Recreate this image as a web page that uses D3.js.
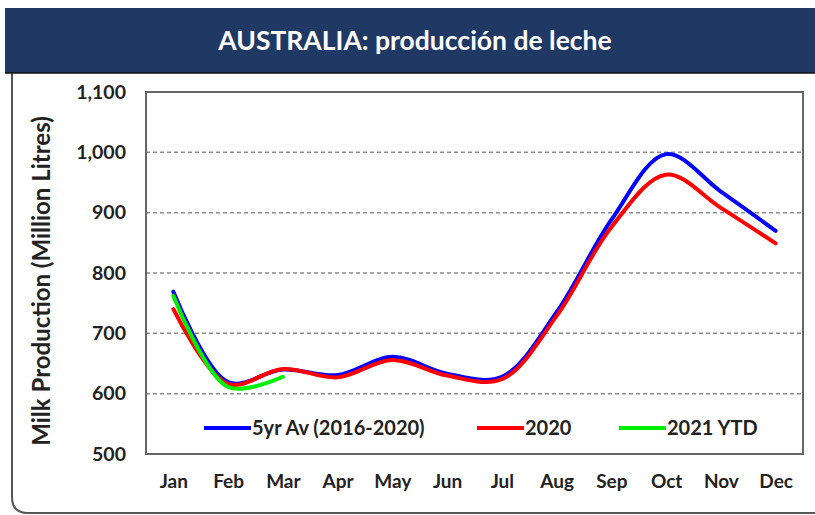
<!DOCTYPE html>
<html>
<head>
<meta charset="utf-8">
<script src="https://cdn.jsdelivr.net/npm/d3@7"></script>
<style>
  body { margin: 0; background: #fff; }
  svg { display: block; font-family: Lato, "Open Sans", sans-serif; }
</style>
</head>
<body>
<div id="chart"></div>
<script>
// data
const months = ["Jan", "Feb", "Mar", "Apr", "May", "Jun", "Jul", "Aug", "Sep", "Oct", "Nov", "Dec"];
const avg5yr = [769, 619, 640, 631, 661, 633, 628, 735, 888, 997, 935, 870];
const y2020 = [740, 616, 641, 627, 656, 630, 624, 729, 876, 963, 908, 849];
const y2021 = [762, 611, 628];
const yTicks = [500, 600, 700, 800, 900, 1000, 1100];

const series = [
  { name: "5yr Av (2016-2020)", values: avg5yr, color: "#0000ff" },
  { name: "2020", values: y2020, color: "#ff0000" },
  { name: "2021 YTD", values: y2021, color: "#00ee00" },
];

function drawChart() {
  const W = 815, H = 515;
  const margin = { top: 92, right: 12, bottom: 61, left: 146 },
    width = W - margin.left - margin.right,
    height = H - margin.top - margin.bottom;

  const root = d3.select("#chart").append("svg").attr("width", W).attr("height", H);

  // cadre gris avec coin arrondi
  root.append("path")
    .attr("d", "M12,73 L12,497 Q12,513 28,513 L815,513")
    .attr("fill", "none")
    .attr("stroke", "#555")
    .attr("stroke-width", 2);

  // bandeau titre
  root.append("rect")
    .attr("x", 5).attr("y", 8).attr("width", 815).attr("height", 65)
    .attr("fill", "#1f3864");
  root.append("line")
    .attr("x1", 5).attr("x2", 815).attr("y1", 73).attr("y2", 73)
    .attr("stroke", "#111").attr("stroke-width", 1.5);
  root.append("text")
    .attr("x", 415).attr("y", 50)
    .attr("text-anchor", "middle")
    .style("fill", "#fff")
    .style("font-size", "26.5px")
    .style("font-weight", "bold")
    .text("AUSTRALIA: producción de leche");

  const svg = root.append("g").attr("transform", `translate(${margin.left},${margin.top})`);

  // échelles
  const x = d3.scalePoint().domain(months).range([0, width]).padding(0.5);
  const y = d3.scaleLinear().domain([500, 1100]).range([height, 0]);

  // grille
  svg.append("g")
    .selectAll("line")
    .data(yTicks.filter((t) => t > 500 && t < 1100))
    .join("line")
    .attr("x1", 0).attr("x2", width)
    .attr("y1", (d) => y(d)).attr("y2", (d) => y(d))
    .attr("stroke", "#8c8c8c")
    .attr("stroke-width", 1.5)
    .attr("stroke-dasharray", "4,3");

  // cadre du graphique
  svg.append("rect")
    .attr("width", width).attr("height", height)
    .attr("fill", "none")
    .attr("stroke", "#666")
    .attr("stroke-width", 2);

  // axes
  const yAxis = svg.append("g")
    .call(d3.axisLeft(y).tickValues(yTicks).tickSize(0).tickPadding(20).tickFormat(d3.format(",")));
  yAxis.select(".domain").remove();
  yAxis.selectAll("text")
    .style("font-family", "Lato, sans-serif")
    .style("font-size", "19.5px")
    .style("font-weight", "bold")
    .style("fill", "#222");

  const xAxis = svg.append("g")
    .attr("transform", `translate(0,${height})`)
    .call(d3.axisBottom(x).tickSize(0).tickPadding(21));
  xAxis.select(".domain").remove();
  xAxis.selectAll("text")
    .style("font-family", "Lato, sans-serif")
    .style("font-size", "19px")
    .style("font-weight", "bold")
    .style("fill", "#222");

  // titre axe Y
  root.append("text")
    .attr("transform", `translate(50,${margin.top + height / 2 + 8}) rotate(-90)`)
    .attr("text-anchor", "middle")
    .style("font-size", "24px")
    .style("font-weight", "bold")
    .style("fill", "#222")
    .text("Milk Production (Million Litres)");

  // courbes
  const line = d3.line()
    .x((d, i) => x(months[i]))
    .y((d) => y(d))
    .curve(d3.curveCatmullRom.alpha(0.5));

  series.forEach((s) => {
    svg.append("path")
      .datum(s.values)
      .attr("fill", "none")
      .attr("stroke", s.color)
      .attr("stroke-width", 4)
      .attr("stroke-linecap", "round")
      .attr("d", line);
  });

  // légende
  const legendX = [58, 331, 473];
  const legend = svg.append("g").attr("transform", `translate(0,${428 - margin.top})`);
  series.forEach((s, i) => {
    legend.append("line")
      .attr("x1", legendX[i]).attr("x2", legendX[i] + 47)
      .attr("stroke", s.color).attr("stroke-width", 4);
    legend.append("text")
      .attr("x", legendX[i] + 48).attr("y", 7)
      .style("font-size", "20px")
      .style("font-weight", "bold")
      .style("fill", "#222")
      .text(s.name);
  });
}

drawChart();
</script>
</body>
</html>
